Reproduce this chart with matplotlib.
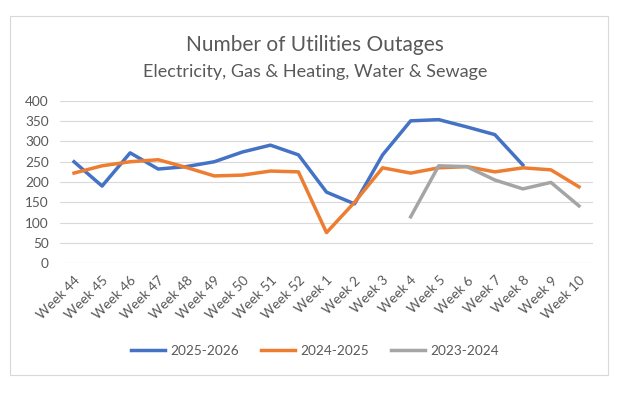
import numpy as np
import matplotlib.pyplot as plt
from matplotlib.patches import Rectangle

weeks = ["Week 44", "Week 45", "Week 46", "Week 47", "Week 48", "Week 49", "Week 50",
         "Week 51", "Week 52", "Week 1", "Week 2", "Week 3", "Week 4", "Week 5",
         "Week 6", "Week 7", "Week 8", "Week 9", "Week 10"]

s2025 = [250, 190, 272, 232, 238, 250, 274, 291, 267, 175, 146, 267, 351, 354, 336, 317, 242]
s2024 = [222, 240, 250, 255, 236, 215, 217, 227, 225, 75, 150, 235, 222, 235, 238, 225, 235, 230, 188]
s2023 = [114, 240, 238, 205, 183, 199, 141]

plt.rcParams['font.family'] = ['Lato', 'DejaVu Sans']

fig = plt.figure(figsize=(6.3, 3.93), dpi=100)
fig.patches.append(Rectangle((10 / 630, 1 - 375 / 393), 598 / 630, 359 / 393,
                             transform=fig.transFigure, fill=False,
                             edgecolor="#D9D9D9", linewidth=0.8))
ax = fig.add_axes([60 / 630, 1 - 263 / 393, 533 / 630, 162 / 393])

x = np.arange(len(weeks))
ax.plot(x[:len(s2025)], s2025, color="#4472C4", lw=2.5, label="2025-2026",
        solid_joinstyle="round")
ax.plot(x, s2024, color="#ED7D31", lw=2.5, label="2024-2025", solid_joinstyle="round")
ax.plot(x[12:12 + len(s2023)], s2023, color="#A5A5A5", lw=2.5, label="2023-2024",
        solid_joinstyle="round")

ax.set_xlim(-0.5, len(weeks) - 0.5)
ax.set_ylim(0, 400)
ax.set_yticks(range(0, 401, 50))
ax.set_xticks(x)
ax.set_xticklabels(weeks, rotation=45, ha="right", rotation_mode="anchor")
ax.grid(axis="y", color="#D9D9D9", lw=0.8)
ax.set_axisbelow(True)
for sp in ax.spines.values():
    sp.set_visible(False)
ax.tick_params(length=0, labelsize=9.8, colors="#595959", pad=8)

fig.text(0.5, 1 - 45 / 393, "Number of Utilities Outages", ha="center", va="center",
         fontsize=15, color="#595959")
fig.text(0.5, 1 - 72 / 393, "Electricity, Gas & Heating, Water & Sewage", ha="center",
         va="center", fontsize=13, color="#595959")

fig.legend(loc="center", bbox_to_anchor=(0.5, 1 - 351 / 393), ncol=3, frameon=False,
           fontsize=9.8, labelcolor="#595959", handlelength=2.5, handletextpad=0.4,
           columnspacing=1.6)

fig.savefig("out.png", dpi=100)
